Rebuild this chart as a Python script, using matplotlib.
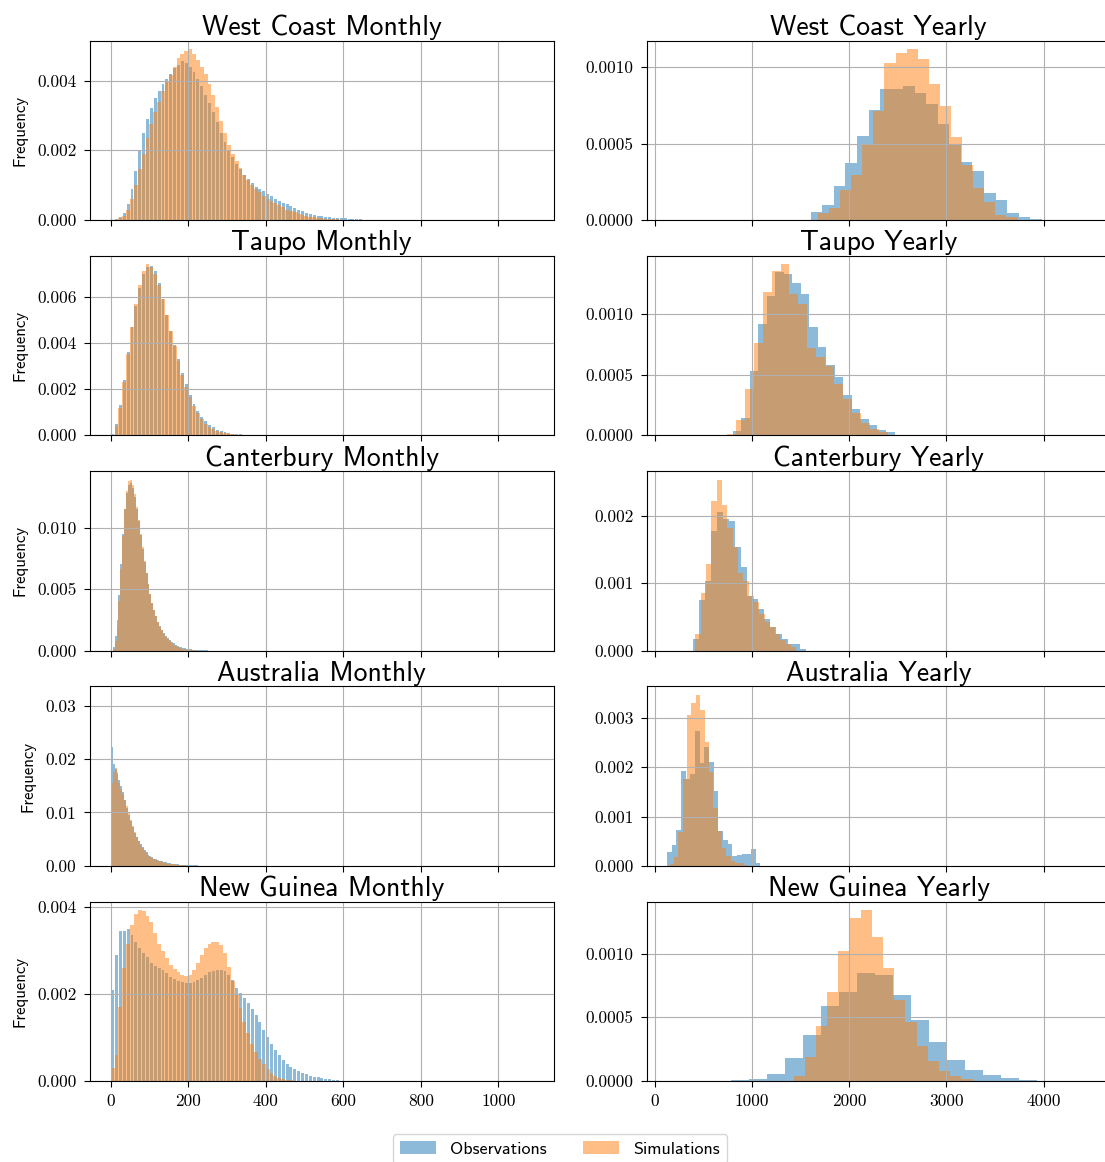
import numpy as np
import matplotlib
matplotlib.use('Agg')
import matplotlib.pyplot as plt
from matplotlib.ticker import MultipleLocator

plt.rcParams['font.family'] = 'cmr10'
plt.rcParams['axes.unicode_minus'] = False

regions = ['West Coast', 'Taupo', 'Canterbury', 'Australia', 'New Guinea']

# Monthly rainfall densities, in units of 1e-3, bins starting at 0
wc_month_width = 10
wc_month_obs = [0.0, 0.02, 0.08, 0.2, 0.45, 0.9, 1.4, 2.0, 2.5, 2.9,
                3.2, 3.5, 3.7, 3.9, 4.05, 4.2, 4.35, 4.45, 4.55, 4.5,
                4.4, 4.25, 4.05, 3.85, 3.6, 3.35, 3.1, 2.8, 2.5, 2.25,
                2.0, 1.8, 1.6, 1.45, 1.3, 1.17, 1.05, 0.95, 0.88, 0.83,
                0.75, 0.68, 0.6, 0.55, 0.5, 0.45, 0.4, 0.35, 0.3, 0.25,
                0.2, 0.18, 0.15, 0.13, 0.11, 0.1, 0.08, 0.07, 0.06, 0.05,
                0.045, 0.04, 0.035, 0.025, 0.02, 0.015, 0.01, 0.008, 0.005, 0.003]
wc_month_sim = [0.0, 0.01, 0.05, 0.12, 0.3, 0.6, 1.0, 1.45, 1.9, 2.35,
                2.75, 3.1, 3.4, 3.7, 3.95, 4.15, 4.4, 4.65, 4.75, 4.85,
                4.9, 4.75, 4.6, 4.4, 4.2, 3.9, 3.6, 3.25, 2.85, 2.5,
                2.15, 1.9, 1.7, 1.5, 1.3, 1.15, 1.0, 0.9, 0.8, 0.7,
                0.6, 0.55, 0.48, 0.42, 0.36, 0.3, 0.26, 0.22, 0.18, 0.15,
                0.12, 0.1, 0.08, 0.065, 0.05, 0.04, 0.03, 0.025, 0.02, 0.015,
                0.01, 0.008, 0.005, 0.003]

taupo_month_width = 10
taupo_month_obs = [0.05, 0.5, 1.3, 2.4, 3.6, 4.7, 5.6, 6.4, 7.0, 7.3,
                   7.35, 7.1, 6.6, 5.9, 5.2, 4.5, 3.9, 3.3, 2.7, 2.2,
                   1.75, 1.35, 1.05, 0.8, 0.6, 0.45, 0.34, 0.25, 0.18, 0.13,
                   0.1, 0.07, 0.05, 0.035, 0.025, 0.018, 0.012, 0.008, 0.005, 0.003]
taupo_month_sim = [0.03, 0.4, 1.2, 2.3, 3.5, 4.7, 5.7, 6.5, 7.1, 7.4,
                   7.3, 7.0, 6.5, 5.9, 5.2, 4.5, 3.85, 3.2, 2.6, 2.1,
                   1.65, 1.25, 0.95, 0.7, 0.5, 0.37, 0.27, 0.19, 0.13, 0.09,
                   0.06, 0.04, 0.025, 0.015, 0.01, 0.006, 0.003]

cant_month_width = 5
cant_month_obs = [0.0, 0.3, 1.2, 2.5, 4.5, 7.0, 9.5, 11.5, 12.8, 13.5,
                  13.6, 13.2, 12.5, 11.5, 10.5, 9.4, 8.3, 7.2, 6.3, 5.4,
                  4.6, 3.9, 3.3, 2.8, 2.35, 2.0, 1.7, 1.45, 1.2, 1.0,
                  0.85, 0.7, 0.58, 0.48, 0.4, 0.32, 0.26, 0.21, 0.17, 0.14,
                  0.11, 0.09, 0.07, 0.05, 0.04, 0.03, 0.02, 0.015, 0.01, 0.005]
cant_month_sim = [0.0, 0.1, 0.8, 2.0, 4.0, 6.6, 9.3, 11.5, 13.0, 13.8,
                  13.9, 13.5, 12.7, 11.7, 10.6, 9.5, 8.4, 7.3, 6.3, 5.4,
                  4.6, 3.9, 3.3, 2.8, 2.35, 1.95, 1.65, 1.35, 1.1, 0.9,
                  0.75, 0.6, 0.48, 0.38, 0.3, 0.24, 0.18, 0.14, 0.1, 0.07,
                  0.05, 0.03, 0.02, 0.01]

au_month_obs_edges = [0, 2.5] + list(range(5, 255, 5))
au_month_obs = [32.0, 22.3,
                19.0, 18.2, 17.2, 16.0, 15.0, 13.8, 12.3, 10.9, 9.6, 8.3,
                7.2, 6.2, 5.4, 4.7, 4.1, 3.5, 3.0, 2.5, 2.1, 1.8,
                1.55, 1.35, 1.2, 1.05, 0.95, 0.85, 0.75, 0.65, 0.55, 0.48,
                0.42, 0.36, 0.3, 0.26, 0.22, 0.19, 0.16, 0.14, 0.12, 0.1,
                0.08, 0.07, 0.06, 0.05, 0.04, 0.03, 0.02, 0.015, 0.01]
au_month_width = 5
au_month_sim = [15.5, 17.5, 18.4, 17.5, 15.5, 14.3, 13.4, 12.4, 11.2, 9.8,
                8.6, 7.4, 6.3, 5.4, 4.6, 3.9, 3.3, 2.8, 2.3, 1.9,
                1.6, 1.4, 1.2, 1.05, 0.9, 0.8, 0.7, 0.6, 0.5, 0.42,
                0.35, 0.29, 0.24, 0.2, 0.16, 0.13, 0.1, 0.08, 0.06, 0.04]

ng_month_width = 10
ng_month_obs = [2.1, 2.9, 3.45, 3.45, 3.5, 3.35, 3.2, 3.05, 2.95, 2.85,
                2.72, 2.65, 2.6, 2.55, 2.48, 2.4, 2.35, 2.3, 2.27, 2.25,
                2.25, 2.27, 2.32, 2.38, 2.45, 2.5, 2.53, 2.56, 2.55, 2.52,
                2.45, 2.32, 2.15, 2.02, 1.9, 1.8, 1.65, 1.52, 1.35, 1.18,
                1.02, 0.85, 0.72, 0.6, 0.48, 0.4, 0.32, 0.27, 0.22, 0.18,
                0.15, 0.12, 0.1, 0.085, 0.07, 0.05, 0.035, 0.022, 0.012, 0.006]
ng_month_sim = [0.3, 0.6, 1.7, 2.6, 3.15, 3.6, 3.85, 3.93, 3.9, 3.8,
                3.65, 3.4, 3.15, 2.98, 2.82, 2.68, 2.58, 2.5, 2.44, 2.41,
                2.45, 2.55, 2.72, 2.9, 3.05, 3.15, 3.2, 3.2, 3.12, 2.95,
                2.62, 2.3, 2.0, 1.68, 1.35, 1.1, 0.85, 0.66, 0.5, 0.38,
                0.27, 0.19, 0.12, 0.08, 0.05, 0.03, 0.02, 0.01]

# Yearly rainfall densities, in units of 1e-4: (first bin edge, bin width, heights)
wc_year_obs = (1607, 118.6, [0.525, 0.985, 2.25, 3.74, 5.51, 7.16, 8.58, 8.58, 8.73, 8.32,
                             7.55, 6.30, 4.99, 3.79, 3.22, 1.79, 1.31, 0.48, 0.175, 0.04])
wc_year_sim = (1679, 114, [0.44, 0.81, 1.97, 2.95, 4.88, 7.11, 10.26, 10.9, 11.16, 10.5,
                           8.86, 7.48, 5.45, 3.57, 2.12, 1.16, 0.33, 0.175])
taupo_year_obs = (804, 87.5, [0.33, 1.46, 5.3, 9.2, 11.5, 13.45, 13.34, 12.6, 11.66, 8.9,
                              7.27, 5.8, 4.78, 3.31, 2.21, 1.38, 0.83, 0.47, 0.28])
taupo_year_sim = (743, 92, [0.08, 1.3, 3.78, 7.6, 11.8, 13.6, 14.1, 11.7, 10.8, 7.24,
                            6.5, 5.7, 4.2, 2.96, 1.85, 1.02, 0.5, 0.28])
cant_year_obs = (400, 60.7, [1.64, 7.46, 10.3, 17.76, 20.65, 19.5, 19.25, 15.37, 12.39, 8.16,
                             7.71, 6.22, 4.63, 3.48, 2.49, 1.74, 1.04, 0.9, 0.25])
cant_year_sim = (421, 54.6, [2.39, 8.6, 12.9, 22.2, 25.4, 21.6, 18.2, 15.4, 11.6, 10.3,
                             8.06, 7.2, 5.47, 4.23, 3.48, 2.49, 1.59, 1.0, 0.5])
au_year_obs = (129, 48, [2.8, 4.2, 7.3, 19.2, 17.6, 18.6, 27.4, 20.8, 24.1, 21.1,
                         15.1, 7.0, 5.2, 4.4, 2.0, 2.1, 2.4, 2.4, 3.5, 0.5])
au_year_sim = (157, 44.6, [0.3, 1.8, 6.8, 17.7, 30.6, 33.1, 34.7, 31.7, 25.2, 19.1,
                           11.7, 7.0, 3.6, 2.0, 1.0, 0.6, 0.6, 0.2])
ng_year_obs = (786, 185, [0.05, 0.13, 0.55, 1.81, 3.62, 5.9, 7.0, 8.5, 8.35, 6.77,
                          4.8, 3.07, 1.65, 0.87, 0.5, 0.24, 0.08])
ng_year_sim = (1429, 115, [0.4, 1.9, 4.3, 7.0, 10.2, 12.76, 13.4, 11.3, 8.9, 6.35,
                           4.6, 2.78, 1.57, 0.79, 0.4, 0.13])

month_yticks = [0.002, 0.002, 0.005, 0.01, 0.002]
year_yticks = [0.0005, 0.0005, 0.001, 0.001, 0.0005]
month_xticks = [0, 200, 400, 600, 800, 1000]
year_xticks = [0, 1000, 2000, 3000, 4000]

# wider monthly bins get narrower observation bars, so the fine seams show
month_obs_rwidth = [0.75, 0.75, None, None, 0.75]


def edges_from(start, width, n):
    return start + width * np.arange(n + 1)


monthly = [
    (edges_from(0, wc_month_width, len(wc_month_obs)), wc_month_obs,
     edges_from(0, wc_month_width, len(wc_month_sim)), wc_month_sim),
    (edges_from(0, taupo_month_width, len(taupo_month_obs)), taupo_month_obs,
     edges_from(0, taupo_month_width, len(taupo_month_sim)), taupo_month_sim),
    (edges_from(0, cant_month_width, len(cant_month_obs)), cant_month_obs,
     edges_from(0, cant_month_width, len(cant_month_sim)), cant_month_sim),
    (np.array(au_month_obs_edges, dtype=float), au_month_obs,
     edges_from(0, au_month_width, len(au_month_sim)), au_month_sim),
    (edges_from(0, ng_month_width, len(ng_month_obs)), ng_month_obs,
     edges_from(0, ng_month_width, len(ng_month_sim)), ng_month_sim),
]

yearly = []
for obs, sim in [(wc_year_obs, wc_year_sim), (taupo_year_obs, taupo_year_sim),
                 (cant_year_obs, cant_year_sim), (au_year_obs, au_year_sim),
                 (ng_year_obs, ng_year_sim)]:
    yearly.append((edges_from(obs[0], obs[1], len(obs[2])), obs[2],
                   edges_from(sim[0], sim[1], len(sim[2])), sim[2]))


def draw_hist(ax, obs_edges, obs, sim_edges, sim, scale, obs_rwidth=None):
    ax.hist(obs_edges[:-1], bins=obs_edges, weights=np.array(obs) * scale,
            rwidth=obs_rwidth, color='C0', alpha=0.5, label='Observations')
    ax.hist(sim_edges[:-1], bins=sim_edges, weights=np.array(sim) * scale,
            color='C1', alpha=0.5, label='Simulations')
    ax.grid(True)
    ax.tick_params(labelsize=12.5, length=4.5, pad=4.8)


fig, axes = plt.subplots(5, 2, figsize=(11.05, 11.62), dpi=100, sharex='col')
fig.subplots_adjust(left=0.081, right=1.0052, top=0.965, bottom=0.0697,
                    wspace=0.2, hspace=0.2)

for i, name in enumerate(regions):
    ax = axes[i, 0]
    draw_hist(ax, *monthly[i], 1e-3, obs_rwidth=month_obs_rwidth[i])
    ax.set_title(name + ' Monthly', fontsize=20, fontfamily='cmss10', pad=4)
    ax.set_ylabel('Frequency', fontsize=12, fontfamily='cmss10', labelpad=7)
    ax.yaxis.set_major_locator(MultipleLocator(month_yticks[i]))
    ax.set_xticks(month_xticks)
    ax.set_xlim(-54.7, 1143)

    ax = axes[i, 1]
    draw_hist(ax, *yearly[i], 1e-4)
    ax.set_title(name + ' Yearly', fontsize=20, fontfamily='cmss10', pad=4)
    ax.yaxis.set_major_locator(MultipleLocator(year_yticks[i]))
    ax.set_xticks(year_xticks)
    ax.set_xlim(-82, 4689)

handles, labels = axes[0, 0].get_legend_handles_labels()
fig.legend(handles, labels, loc='upper center', bbox_to_anchor=(0.5068, 0.0241),
           borderaxespad=0, ncol=2, prop={'family': 'cmss10', 'size': 13})

fig.savefig('out.png', dpi=100)
